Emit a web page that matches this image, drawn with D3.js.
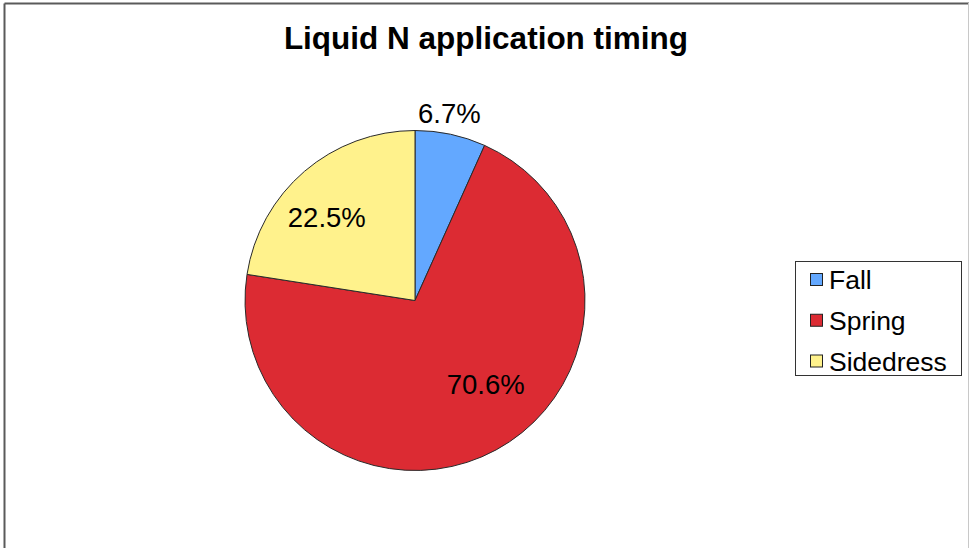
<!DOCTYPE html>
<html>
<head>
<meta charset="utf-8">
<script src="https://cdn.jsdelivr.net/npm/d3@7/dist/d3.min.js"></script>
<style>
  html, body { margin: 0; padding: 0; background: #fff; }
  svg { display: block; }
  text { font-family: Arial, "Liberation Sans", sans-serif; }
</style>
</head>
<body>
<svg id="chart" width="969" height="548"></svg>
<script>
const title = "Liquid N application timing";
const categories = ["Fall", "Spring", "Sidedress"];
const values = [6.7, 70.6, 22.5];
const colors = ["#63A8FF", "#DC2B33", "#FFF28C"];

const W = 969, H = 548;
const svg = d3.select("#chart");

// chart frame
svg.append("line").attr("x1", 4.5).attr("y1", 3.5).attr("x2", 969).attr("y2", 3.5)
  .attr("stroke", "#5a5a5a").attr("stroke-width", 2);
svg.append("line").attr("x1", 4.5).attr("y1", 3.5).attr("x2", 4.5).attr("y2", H)
  .attr("stroke", "#5a5a5a").attr("stroke-width", 2);
svg.append("line").attr("x1", 968.5).attr("y1", 3).attr("x2", 968.5).attr("y2", H)
  .attr("stroke", "#c8c8c8").attr("stroke-width", 1);

// title
svg.append("text")
  .attr("x", 486).attr("y", 49)
  .attr("text-anchor", "middle")
  .attr("font-size", 31.5).attr("font-weight", "bold")
  .attr("fill", "#000")
  .text(title);

// pie
const cx = 415, cy = 300.5, r = 170;
const data = categories.map((c, i) => ({ name: c, value: values[i], color: colors[i] }));
const pie = d3.pie().sort(null).value(d => d.value);
const arcs = pie(data);
const arc = d3.arc().innerRadius(0).outerRadius(r);
const g = svg.append("g").attr("transform", `translate(${cx},${cy})`);
g.selectAll("path").data(arcs).enter().append("path")
  .attr("d", arc)
  .attr("fill", d => d.data.color)
  .attr("stroke", "#2a2a2a").attr("stroke-width", 1)
  .attr("stroke-linejoin", "round");

// labels: inside labels rotated slightly back (best-fit style), small slices outside
function labelPos(d) {
  const small = d.data.value < 10;
  const rr = small ? r + 21 : r * 0.68;
  const shift = small ? -0.03 : -0.16;
  const a = (d.startAngle + d.endAngle) / 2 + shift;
  return [rr * Math.sin(a), -rr * Math.cos(a)];
}
g.selectAll("text.lbl").data(arcs).enter().append("text")
  .attr("class", "lbl")
  .attr("transform", d => { const p = labelPos(d); return `translate(${p[0]},${p[1]})`; })
  .attr("text-anchor", "middle")
  .attr("dy", d => d.data.value < 10 ? "0.36em" : "0.06em")
  .attr("font-size", 27.5)
  .attr("fill", "#000")
  .text(d => d.data.value.toFixed(1) + "%");

// legend
const lg = svg.append("g");
lg.append("rect").attr("x", 795.5).attr("y", 261.5).attr("width", 166).attr("height", 114)
  .attr("fill", "#fff").attr("stroke", "#333").attr("stroke-width", 1);
const rowY = d3.scalePoint().domain(categories).range([279.5, 361]);
const items = lg.selectAll("g.item").data(data).enter().append("g").attr("class", "item");
items.append("rect")
  .attr("x", 810.5).attr("y", d => rowY(d.name) - 6)
  .attr("width", 12).attr("height", 12)
  .attr("fill", d => d.color).attr("stroke", "#222").attr("stroke-width", 1);
items.append("text")
  .attr("x", 829).attr("y", d => rowY(d.name))
  .attr("dy", "0.36em")
  .attr("font-size", 26.5).attr("fill", "#000")
  .text(d => d.name);
</script>
</body>
</html>
